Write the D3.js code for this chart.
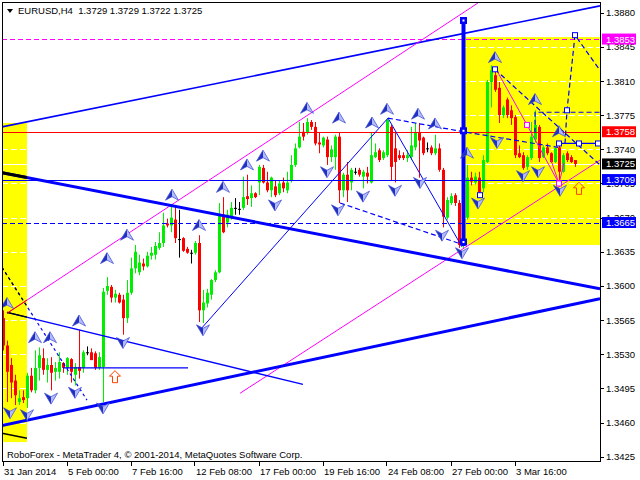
<!DOCTYPE html>
<html>
<head>
<meta charset="utf-8">
<script src="https://cdn.jsdelivr.net/npm/d3@7"></script>
<style>
  body { margin: 0; background: #fff; }
  svg { display: block; }
  text { font-family: "Liberation Sans", Arial, sans-serif; font-size: 9.5px; }
</style>
</head>
<body>
<svg id="chart" width="640" height="480"></svg>
<script>
// ---- EURUSD H4 candles (bar index 0 = 31 Jan 2014) ----
const symbol = "EURUSD,H4";
const opens = [
1.3567,1.3539,1.3519,1.3503,1.3481,1.3486,1.3485,1.3508,1.3493,1.3516,1.3526,1.3514,1.3519,1.3512,1.3512,1.3521,
1.3516,1.3525,1.3509,1.3517,1.3516,1.3532,1.3532,1.3531,1.3516,1.3517,1.3595,1.3599,1.3588,1.3591,1.3586,1.3567,
1.3593,1.3618,1.3614,1.3623,1.3620,1.3631,1.3632,1.3639,1.3644,1.3664,1.3662,1.3668,1.3648,1.3649,1.3638,1.3634,
1.3634,1.3644,1.3575,1.3582,1.3591,1.3606,1.3614,1.3673,1.3665,1.3670,1.3680,1.3679,1.3680,1.3692,1.3690,1.3695,
1.3706,1.3721,1.3706,1.3698,1.3702,1.3695,1.3706,1.3698,1.3708,1.3724,1.3742,1.3758,1.3757,1.3768,1.3763,1.3747,
1.3744,1.3750,1.3732,1.3732,1.3753,1.3698,1.3714,1.3706,1.3717,1.3719,1.3712,1.3716,1.3706,1.3732,1.3739,1.3731,
1.3734,1.3763,1.3741,1.3734,1.3734,1.3731,1.3732,1.3742,1.3757,1.3752,1.3741,1.3742,1.3736,1.3741,1.3719,1.3670,
1.3685,1.3693,1.3685,1.3642,1.3670,1.3711,1.3706,1.3711,1.3700,1.3727,1.3809,1.3816,1.3803,1.3775,1.3791,1.3780,
1.3773,1.3736,1.3734,1.3722,1.3731,1.3750,1.3763,1.3732,1.3742,1.3736,1.3727,1.3742,1.3717,1.3736,1.3732,1.3729];
const highs = [
1.3575,1.3544,1.3526,1.3509,1.3493,1.3493,1.3511,1.3516,1.3534,1.3537,1.3536,1.3526,1.3527,1.3522,1.3532,1.3522,
1.3527,1.3526,1.3521,1.3555,1.3534,1.3538,1.3536,1.3533,1.3532,1.3598,1.3609,1.3601,1.3596,1.3593,1.3591,1.3606,
1.3629,1.3642,1.3632,1.3628,1.3635,1.3640,1.3645,1.3655,1.3675,1.3669,1.3683,1.3681,1.3678,1.3650,1.3640,1.3637,
1.3646,1.3652,1.3596,1.3597,1.3607,1.3616,1.3685,1.3691,1.3678,1.3686,1.3690,1.3686,1.3712,1.3714,1.3703,1.3696,
1.3724,1.3724,1.3717,1.3712,1.3708,1.3708,1.3711,1.3717,1.3734,1.3746,1.3768,1.3767,1.3772,1.3770,1.3768,1.3757,
1.3753,1.3753,1.3744,1.3755,1.3757,1.3716,1.3727,1.3721,1.3721,1.3721,1.3719,1.3722,1.3757,1.3746,1.3741,1.3739,
1.3772,1.3765,1.3757,1.3739,1.3737,1.3739,1.3763,1.3767,1.3767,1.3753,1.3747,1.3744,1.3755,1.3746,1.3721,1.3691,
1.3695,1.3695,1.3688,1.3676,1.3724,1.3717,1.3716,1.3717,1.3734,1.3811,1.3826,1.3824,1.3809,1.3785,1.3793,1.3785,
1.3775,1.3744,1.3737,1.3734,1.3768,1.3780,1.3765,1.3744,1.3746,1.3737,1.3742,1.3746,1.3736,1.3738,1.3734,1.3729];
const lows = [
1.3534,1.3481,1.3485,1.3478,1.3478,1.3480,1.3475,1.3491,1.3490,1.3503,1.3509,1.3501,1.3493,1.3503,1.3505,1.3511,
1.3509,1.3501,1.3498,1.3505,1.3511,1.3529,1.3524,1.3514,1.3514,1.3481,1.3591,1.3583,1.3583,1.3582,1.3550,1.3562,
1.3591,1.3613,1.3611,1.3616,1.3619,1.3627,1.3627,1.3637,1.3640,1.3660,1.3655,1.3644,1.3629,1.3635,1.3633,1.3623,
1.3632,1.3563,1.3562,1.3578,1.3586,1.3604,1.3613,1.3654,1.3660,1.3668,1.3673,1.3673,1.3678,1.3683,1.3681,1.3690,
1.3693,1.3705,1.3696,1.3691,1.3691,1.3693,1.3696,1.3695,1.3706,1.3722,1.3741,1.3749,1.3755,1.3760,1.3744,1.3736,
1.3742,1.3724,1.3727,1.3719,1.3685,1.3691,1.3686,1.3698,1.3714,1.3712,1.3700,1.3705,1.3705,1.3731,1.3727,1.3729,
1.3732,1.3708,1.3706,1.3729,1.3729,1.3727,1.3729,1.3739,1.3711,1.3734,1.3737,1.3734,1.3734,1.3717,1.3660,1.3668,
1.3683,1.3682,1.3639,1.3639,1.3668,1.3703,1.3704,1.3693,1.3696,1.3726,1.3783,1.3799,1.3767,1.3772,1.3772,1.3765,
1.3731,1.3731,1.3719,1.3719,1.3729,1.3747,1.3727,1.3731,1.3734,1.3726,1.3726,1.3708,1.3716,1.3727,1.3726,1.3722];
const closes = [
1.3539,1.3512,1.3501,1.3488,1.3485,1.3483,1.3508,1.3493,1.3516,1.3529,1.3514,1.3519,1.3511,1.3516,1.3522,1.3516,
1.3526,1.3512,1.3517,1.3513,1.3532,1.3532,1.3524,1.3516,1.3527,1.3594,1.3600,1.3588,1.3592,1.3583,1.3567,1.3593,
1.3618,1.3635,1.3624,1.3620,1.3631,1.3634,1.3641,1.3644,1.3662,1.3662,1.3670,1.3649,1.3648,1.3636,1.3634,1.3634,
1.3644,1.3575,1.3583,1.3593,1.3606,1.3614,1.3673,1.3655,1.3673,1.3680,1.3680,1.3679,1.3691,1.3689,1.3695,1.3691,
1.3722,1.3706,1.3698,1.3711,1.3693,1.3705,1.3700,1.3706,1.3724,1.3741,1.3753,1.3753,1.3768,1.3763,1.3746,1.3745,
1.3752,1.3732,1.3740,1.3753,1.3698,1.3714,1.3698,1.3719,1.3717,1.3714,1.3717,1.3712,1.3734,1.3737,1.3729,1.3737,
1.3770,1.3722,1.3727,1.3731,1.3731,1.3734,1.3744,1.3757,1.3749,1.3736,1.3741,1.3736,1.3741,1.3719,1.3671,1.3688,
1.3692,1.3685,1.3642,1.3670,1.3711,1.3707,1.3712,1.3696,1.3729,1.3809,1.3821,1.3801,1.3775,1.3783,1.3775,1.3772,
1.3734,1.3732,1.3721,1.3732,1.3753,1.3765,1.3731,1.3742,1.3736,1.3727,1.3741,1.3717,1.3734,1.3729,1.3727,1.3725];

// ---- axes ----
const timeTickBars = [0, 16, 32, 48, 64, 80, 96, 112, 128];
const timeTickLabels = ["31 Jan 2014", "5 Feb 00:00", "7 Feb 16:00", "12 Feb 08:00", "17 Feb 00:00",
                        "19 Feb 16:00", "24 Feb 08:00", "27 Feb 00:00", "3 Mar 16:00"];
const priceTicks = [1.3425, 1.3460, 1.3495, 1.3530, 1.3565, 1.3600, 1.3635, 1.3670,
                    1.3705, 1.3740, 1.3775, 1.3810, 1.3845, 1.3880];

// ---- drawn objects, as [bar, price] ----
const levelPrices = [1.3853, 1.3758, 1.3709, 1.3665];
const zoneLeft = [[-0.375, 1.3767], [5.875, 1.3440]];
const zoneRight = [[114.95, 1.3855], [149.125, 1.3642]];
const trendUpper = [[-0.375, 1.3716], [149.125, 1.3597]];
const trendLower = [[-0.375, 1.3457], [149.125, 1.3587]];
const longResistance = [[-0.375, 1.3763], [149.125, 1.3887]];
const channelTop = [[0.875, 1.3572], [118.625, 1.3890]];
const channelBottom = [[59.125, 1.3490], [149.125, 1.3729]];
const waveLine = [[49.375, 1.3556], [96.125, 1.3772], [114.625, 1.3640]];
const triangleLine = [[0.875, 1.3573], [74.875, 1.3499]];
const baseLine = [[14.875, 1.3516], [46.125, 1.3516]];
const earlyDash = [[-0.375, 1.3619], [20.875, 1.3483]];
const leftStub = [[-0.375, 1.3449], [5.875, 1.3444]];
const dashHighs = [[96.125, 1.3772], [115, 1.3758], [138.625, 1.3742]];
const dashLows = [[84.125, 1.3685], [113.625, 1.3644]];
const dashPeak = [[122.875, 1.3822], [149.125, 1.3724]];
const dashBox = [[132.875, 1.3757], [132.875, 1.3778], [149.125, 1.3778]];
const forecastPath = [[140.375, 1.3746], [140.875, 1.3780], [142.875, 1.3857], [149.125, 1.3821]];
const forecastNodes = [[140.875, 1.3780], [142.875, 1.3857]];
const targetLine = [[138.875, 1.3746], [149.125, 1.3746]];
const targetNodes = [[138.875, 1.3746], [143.875, 1.3746], [148.625, 1.3746]];
const pivotNodes = [[122.875, 1.3822], [119.125, 1.3693]];
const decayCurve = [[122.875, 1.3824], [130.875, 1.3765], [138.875, 1.3705]];
const decayNodes = [[130.875, 1.3765], [138.875, 1.3705]];
const vNotch = [[136.875, 1.3729], [138.875, 1.3705], [140.125, 1.3726]];
const impulseBar = [[115, 1.3875], [115, 1.3641]];
const impulseNodes = [[115, 1.3872], [115, 1.3759], [115, 1.3645]];
const upFractals = [[0.875,1.3582],[7.875,1.3547],[11.625,1.3547],[18.875,1.3564],[25.875,1.3628],
  [30.875,1.3652],[42.125,1.3693],[48.875,1.3662],[54.875,1.3701],[60.875,1.3724],[64.875,1.3733],
  [75.875,1.3782],[83.875,1.3772],[92.125,1.3767],[95.875,1.3781],[103.625,1.3776],[107.875,1.3766],
  [115.875,1.3736],[122.875,1.3834],[132.875,1.3791],[138.875,1.3758]];
const downFractals = [[1.625,1.3470],[5.875,1.3468],[11.875,1.3485],[17.875,1.3491],[24.875,1.3475],
  [29.875,1.3542],[49.875,1.3555],[67.875,1.3683],[80.875,1.3717],[83.625,1.3678],[89.875,1.3692],
  [97.875,1.3698],[104.125,1.3706],[109.625,1.3652],[114.625,1.3634],[118.625,1.3685],[123.375,1.3747],
  [129.875,1.3713],[133.625,1.3717],[139.125,1.3698]];
const buySignals = [[27.875, 1.3507], [143.875, 1.3700]];
const priceTags = [[1.3853, "#ff00ff"], [1.3758, "#ff0000"], [closes[closes.length - 1], "#000000"],
                   [1.3709, "#0000ff"], [1.3665, "#0000ff"]];

// ---- scales ----
const plot = { left: 2, right: 600, top: 2, bottom: 461 };
const x = d3.scaleLinear().domain([0, 149]).range([3.5, 599.5]);
const y = d3.scaleLinear().domain([1.3425, 1.3880]).range([456.7, 12.7]);

const svg = d3.select("#chart");
svg.append("rect").attr("width", 640).attr("height", 480).attr("fill", "#fff");
const defs = svg.append("defs");
defs.append("clipPath").attr("id", "plotClip").append("rect")
  .attr("x", plot.left).attr("y", plot.top)
  .attr("width", plot.right - plot.left).attr("height", plot.bottom - plot.top);
const zoneRect = z => ({ x: x(z[0][0]), y: y(z[0][1]), w: x(z[1][0]) - x(z[0][0]), h: y(z[1][1]) - y(z[0][1]) });
const zl = zoneRect(zoneLeft);
defs.append("clipPath").attr("id", "leftZoneClip").append("rect")
  .attr("x", zl.x).attr("y", zl.y).attr("width", zl.w).attr("height", zl.h);

const g = svg.append("g").attr("clip-path", "url(#plotClip)");

// yellow zones
[zoneLeft, zoneRight].forEach(z => {
  const r = zoneRect(z);
  g.append("rect").attr("x", r.x).attr("y", r.y).attr("width", r.w).attr("height", r.h).attr("fill", "#ffff00");
});

// white grid (only shows on the zones) and bid line
g.selectAll("line.grid").data(priceTicks).join("line").attr("class", "grid")
  .attr("x1", plot.left).attr("x2", plot.right)
  .attr("y1", d => Math.round(y(d)) + 0.5).attr("y2", d => Math.round(y(d)) + 0.5)
  .attr("stroke", "#fff").attr("stroke-dasharray", "6,3");
const lastClose = closes[closes.length - 1];
g.append("line").attr("x1", plot.left).attr("x2", plot.right)
  .attr("y1", Math.round(y(lastClose)) + 0.5).attr("y2", Math.round(y(lastClose)) + 0.5)
  .attr("stroke", "#fff");

// candles
const bars = d3.range(opens.length).map(i => ({ i, o: opens[i], h: highs[i], l: lows[i], c: closes[i] }));
const candleColor = d => d.c > d.o ? "#00ee00" : d.c < d.o ? "#ff0000" : "#000000";
g.selectAll("rect.wick").data(bars).join("rect").attr("class", "wick")
  .attr("x", d => x(d.i) - 0.5).attr("width", 1)
  .attr("y", d => y(d.h)).attr("height", d => Math.max(1, y(d.l) - y(d.h)))
  .attr("fill", candleColor);
g.selectAll("rect.body").data(bars).join("rect").attr("class", "body")
  .attr("x", d => x(d.i) - 1.5).attr("width", 3)
  .attr("y", d => y(Math.max(d.o, d.c)))
  .attr("height", d => Math.max(1, Math.abs(y(d.o) - y(d.c))))
  .attr("fill", candleColor);

// lines
const line = d3.line().x(d => x(d[0])).y(d => y(d[1]));
const curve = d3.line().x(d => x(d[0])).y(d => y(d[1])).curve(d3.curveNatural);
function path(pts, color, width, dash, parent = g, gen = line) {
  parent.append("path").attr("d", gen(pts)).attr("fill", "none")
    .attr("stroke", color).attr("stroke-width", width)
    .attr("stroke-dasharray", dash || null);
}

// horizontal levels
const levelStyles = [["#ff00ff", "5,3"], ["#ff0000", null], ["#0000ff", null], ["#0000ff", "5,3"]];
levelPrices.forEach((p, k) => {
  const yy = Math.round(y(p)) + 0.5;
  g.append("line").attr("x1", plot.left).attr("x2", plot.right).attr("y1", yy).attr("y2", yy)
    .attr("stroke", levelStyles[k][0]).attr("stroke-dasharray", levelStyles[k][1]);
});

path(longResistance, "#0000ff", 1.6);
path(channelTop, "#ff00ff", 1);
path(channelBottom, "#ff00ff", 1);
path(trendUpper, "#0000ff", 3);
path(trendLower, "#0000ff", 3);
path(waveLine, "#0000ff", 1);
path(triangleLine, "#0000ff", 1.3);
path(baseLine, "#0000ff", 1.2);
path(earlyDash, "#0000ff", 1.2, "3,3");
path(dashHighs, "#0000ff", 1.2, "5,3");
path(dashLows, "#0000ff", 1.2, "5,3");
path(dashPeak, "#0000ff", 1.2, "5,3");
path(dashBox, "#0000ff", 1.2, "5,3");
path(forecastPath, "#0000ff", 1.2, "5,3");
path(targetLine, "#0000ff", 1.2);
path(decayCurve, "#ff00ff", 1, null, g, curve);
path(vNotch, "#ff00ff", 1);

// segments inside the left zone are drawn darker
const lz = g.append("g").attr("clip-path", "url(#leftZoneClip)");
path(trendUpper, "#000000", 3, null, lz);
path(triangleLine, "#000000", 1.3, null, lz);
path(earlyDash, "#000000", 1.2, "3,3", lz);
path(channelTop, "#ff0000", 1, null, lz);
path(leftStub, "#000000", 1.5);

// impulse bar
g.append("line").attr("x1", x(impulseBar[0][0])).attr("x2", x(impulseBar[1][0]))
  .attr("y1", y(impulseBar[0][1])).attr("y2", y(impulseBar[1][1]))
  .attr("stroke", "#0000ff").attr("stroke-width", 4);
impulseNodes.forEach(d => {
  g.append("rect").attr("x", x(d[0]) - 3.5).attr("y", y(d[1]) - 3.5).attr("width", 7).attr("height", 7).attr("fill", "#0000ff");
  g.append("rect").attr("x", x(d[0]) - 1).attr("y", y(d[1]) - 1).attr("width", 2).attr("height", 2).attr("fill", "#fff");
});

// hollow nodes
function node(d, color) {
  g.append("rect").attr("x", x(d[0]) - 2.5).attr("y", y(d[1]) - 2.5).attr("width", 5).attr("height", 5)
    .attr("fill", "#fff").attr("stroke", color).attr("stroke-width", 1);
}
pivotNodes.forEach(d => node(d, "#0000ff"));
targetNodes.forEach(d => node(d, "#0000ff"));
forecastNodes.forEach(d => node(d, "#0000ff"));
decayNodes.forEach(d => node(d, "#ff00ff"));

// fractal chevrons
function chevron(d, up) {
  const s = up ? 1 : -1;
  const a = g.append("g").attr("transform", `translate(${x(d[0])},${y(d[1])}) scale(1,${s})`);
  a.append("path").attr("d", "M0,-6 L-6.5,5 L0,1.5 Z").attr("fill", "#2030c0");
  a.append("path").attr("d", "M0,-6 L6.5,5 L0,1.5 Z").attr("fill", "#b4bcff");
  a.append("path").attr("d", "M0,-6 L6.5,5 L0,1.5 L-6.5,5 Z").attr("fill", "none")
    .attr("stroke", "#3a48d0").attr("stroke-width", 0.7);
}
upFractals.forEach(d => chevron(d, true));
downFractals.forEach(d => chevron(d, false));

// buy signal arrows
buySignals.forEach(d => {
  g.append("path").attr("transform", `translate(${x(d[0])},${y(d[1])})`)
    .attr("d", "M0,-6 L5.5,-0.5 L2.5,-0.5 L2.5,6 L-2.5,6 L-2.5,-0.5 L-5.5,-0.5 Z")
    .attr("fill", "none").attr("stroke", "#ff4000").attr("stroke-width", 1);
});

// frame
svg.append("rect").attr("x", plot.left + 0.5).attr("y", plot.top + 0.5)
  .attr("width", plot.right - plot.left).attr("height", plot.bottom - plot.top)
  .attr("fill", "none").attr("stroke", "#000");

// price axis
priceTicks.forEach(p => {
  const yy = Math.round(y(p)) + 0.5;
  svg.append("line").attr("x1", plot.right).attr("x2", plot.right + 4).attr("y1", yy).attr("y2", yy).attr("stroke", "#000");
  svg.append("text").attr("x", 606).attr("y", y(p) + 3.5).attr("fill", "#000").text(p.toFixed(4));
});
priceTags.forEach(([p, color]) => {
  svg.append("rect").attr("x", 602).attr("y", y(p) - 5.5).attr("width", 34).attr("height", 11).attr("fill", color);
  svg.append("text").attr("x", 606).attr("y", y(p) + 3.5).attr("fill", "#fff").text(p.toFixed(4));
});

// time axis
timeTickBars.forEach((b, k) => {
  const xx = Math.round(x(b)) - 0.5;
  svg.append("line").attr("x1", xx).attr("x2", xx).attr("y1", plot.bottom).attr("y2", plot.bottom + 5).attr("stroke", "#000");
  svg.append("text").attr("x", x(b) + 0.5).attr("y", 475).attr("fill", "#000").text(timeTickLabels[k]);
});

// header and footer
svg.append("path").attr("d", "M7,9 L13,9 L10,13 Z").attr("fill", "#000");
const n = opens.length - 1;
svg.append("text").attr("x", 18).attr("y", 14).attr("fill", "#000")
  .text(`${symbol}\u00a0\u00a0${opens[n].toFixed(4)} ${highs[n].toFixed(4)} ${lows[n].toFixed(4)} ${closes[n].toFixed(4)}`);
svg.append("text").attr("x", 7).attr("y", 458).attr("fill", "#000")
  .text("RoboForex - MetaTrader 4, \u00a9 2001-2014, MetaQuotes Software Corp.");
</script>
</body>
</html>
